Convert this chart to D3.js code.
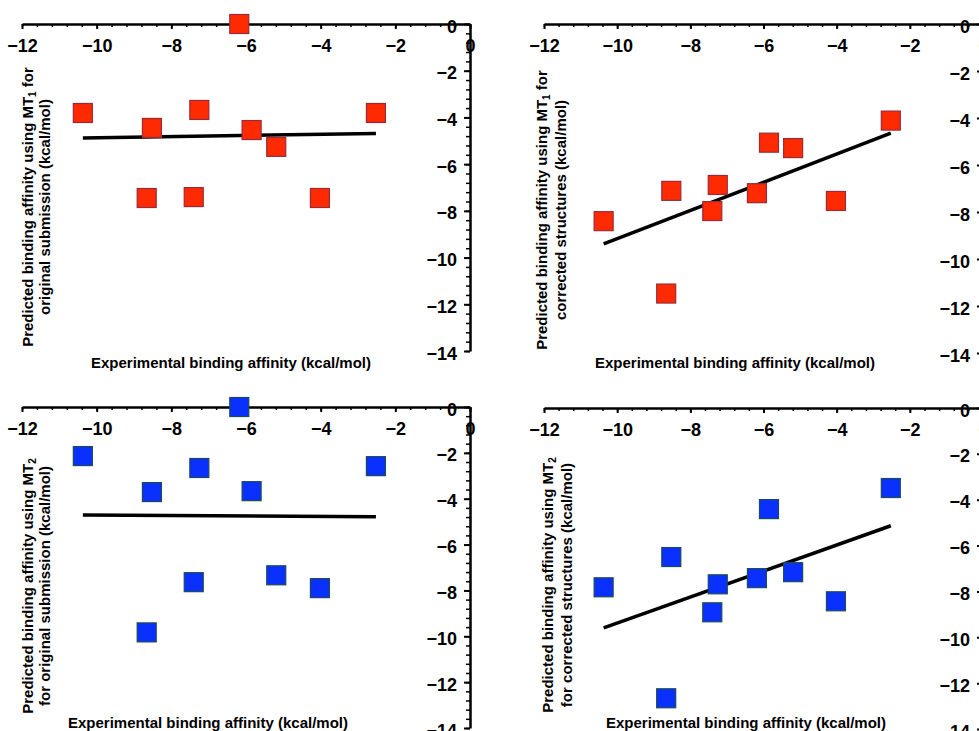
<!DOCTYPE html>
<html>
<head>
  <meta charset="utf-8">
  <script src="https://d3js.org/d3.v7.min.js"></script>
  <title>Predicted vs experimental binding affinity</title>
  <style>
    body {margin: 0; background: #fff;}
    svg {font-family: "Liberation Sans", Arial, Helvetica, sans-serif; font-weight: bold;}
    .axis path, .axis line {stroke: #000;}
    .title {font-size: 15px; fill: #000;}
  </style>
</head>
<body>
<div id="chart"></div>
<script>
  // experimental affinity of the ten complexes (kcal/mol)
  const experimental = [-10.37, -8.66, -8.52, -7.40, -7.25, -6.18, -5.85, -5.19, -4.02, -2.52];

  // predicted affinities, same order as above
  const mt1Original  = [-3.81, -7.45, -4.45, -7.41, -3.68, 0, -4.54, -5.26, -7.45, -3.81];
  const mt1Corrected = [-8.39, -11.47, -7.10, -7.96, -6.85, -7.20, -5.05, -5.28, -7.53, -4.11];
  const mt2Original  = [-2.14, -9.83, -3.71, -7.64, -2.66, 0, -3.67, -7.34, -7.90, -2.58];
  const mt2Corrected = [-7.82, -12.66, -6.50, -8.91, -7.69, -7.42, -4.41, -7.16, -8.43, -3.49];

  const xTicks = [-12, -10, -8, -6, -4, -2, 0];
  const yTicks = [0, -2, -4, -6, -8, -10, -12, -14];
  const xTitle = "Experimental binding affinity (kcal/mol)";

  /* one entry per panel: where it sits and what it shows */
  const panels = [
    {pred: mt1Original,  fill: "#ff2a00", edge: "#9a2a3a", px: [22, 470],  py: [24, 351],
     sub: "1", line1: ["Predicted binding affinity using MT", " for"], line2: "original submission (kcal/mol)",
     xt: [231, 368], yt: [33, 50, 207]},
    {pred: mt1Corrected, fill: "#ff2a00", edge: "#9a2a3a", px: [544, 983], py: [24, 353],
     sub: "1", line1: ["Predicted binding affinity using MT", " for"], line2: "corrected structures (kcal/mol)",
     xt: [735, 368], yt: [547, 566, 210]},
    {pred: mt2Original,  fill: "#0a30ff", edge: "#1d4a55", px: [22, 470],  py: [407, 728],
     sub: "2", line1: ["Predicted binding affinity using MT", ""], line2: "for original submission (kcal/mol)",
     xt: [208, 728], yt: [33, 50, 586]},
    {pred: mt2Corrected, fill: "#0a30ff", edge: "#1d4a55", px: [544, 983], py: [408, 729],
     sub: "2", line1: ["Predicted binding affinity using MT", ""], line2: "for corrected structures (kcal/mol)",
     xt: [746, 728], yt: [553, 572, 585]}
  ];

  const svg = d3.select("#chart").append("svg")
                .attr("width", 979)
                .attr("height", 731);

  // least squares fit
  const fit = (xs, ys) => {
    const mx = d3.mean(xs), my = d3.mean(ys);
    const slope = d3.sum(xs, (x, i) => (x - mx) * (ys[i] - my)) / d3.sum(xs, x => (x - mx) * (x - mx));
    return x => my + slope * (x - mx);
  };

  const minor = d3.range(0, 31).map(i => -12 + i * 0.4);
  const minorY = d3.range(0, 36).map(i => -i * 0.4);

  const styleLabels = sel => sel.selectAll("text")
      .attr("font-family", "'Liberation Sans', Arial, Helvetica, sans-serif")
      .attr("font-weight", "bold")
      .attr("font-size", 18)
      .attr("fill", "#000");

  panels.forEach(p => {
    const x = d3.scaleLinear().domain([-12, 0]).range(p.px);
    const y = d3.scaleLinear().domain([0, -14]).range(p.py);
    const g = svg.append("g");

    // minor ticks
    g.append("g").attr("class", "axis minor")
     .attr("transform", `translate(0,${p.py[0]})`)
     .call(d3.axisBottom(x).tickValues(minor).tickSize(3).tickSizeOuter(0).tickFormat(""))
     .call(a => a.select(".domain").remove())
     .selectAll("line").attr("stroke-width", 1.5);

    g.append("g").attr("class", "axis minor")
     .attr("transform", `translate(${p.px[1]},0)`)
     .call(d3.axisLeft(y).tickValues(minorY).tickSize(4).tickSizeOuter(0).tickFormat(""))
     .call(a => a.select(".domain").remove())
     .selectAll("line").attr("stroke-width", 1.5);

    // major axes
    const xa = g.append("g").attr("class", "axis")
     .attr("transform", `translate(0,${p.py[0]})`)
     .call(d3.axisBottom(x).tickValues(xTicks).tickSize(5).tickSizeOuter(0).tickPadding(10).tickFormat(d3.format("d")))
     .call(styleLabels);
    xa.select(".domain").attr("stroke-width", 2.5);
    xa.selectAll("line").attr("stroke-width", 2);

    const ya = g.append("g").attr("class", "axis")
     .attr("transform", `translate(${p.px[1]},0)`)
     .call(d3.axisLeft(y).tickValues(yTicks).tickSize(6).tickSizeOuter(0).tickPadding(7).tickFormat(d3.format("d")))
     .call(styleLabels);
    ya.select(".domain").attr("stroke-width", 2.5);
    ya.selectAll("line").attr("stroke-width", 2);
    ya.selectAll("text").attr("dy", "0.45em");

    // regression line
    const f = fit(experimental, p.pred);
    const ext = d3.extent(experimental);
    g.append("line")
     .attr("x1", x(ext[0])).attr("y1", y(f(ext[0])))
     .attr("x2", x(ext[1])).attr("y2", y(f(ext[1])))
     .attr("stroke", "#000").attr("stroke-width", 3.5);

    // points
    const s = 19;
    g.selectAll("rect.pt")
     .data(experimental.map((e, i) => ({e: e, v: p.pred[i]})))
     .enter().append("rect")
     .attr("class", "pt")
     .attr("x", d => x(d.e) - s / 2)
     .attr("y", d => y(d.v) - s / 2)
     .attr("width", s).attr("height", s)
     .attr("fill", p.fill)
     .attr("stroke", p.edge)
     .attr("stroke-width", 1.2);

    // titles
    g.append("text").attr("class", "title")
     .attr("x", p.xt[0]).attr("y", p.xt[1])
     .attr("text-anchor", "middle")
     .text(xTitle);

    const yt = g.append("text").attr("class", "title")
     .attr("transform", `translate(${p.yt[0]},${p.yt[2]}) rotate(-90)`)
     .attr("text-anchor", "middle");
    yt.append("tspan").text(p.line1[0]);
    yt.append("tspan").attr("font-size", "10px").attr("dy", "3").text(p.sub);
    yt.append("tspan").attr("dy", "-3").text(p.line1[1]);

    g.append("text").attr("class", "title")
     .attr("transform", `translate(${p.yt[1]},${p.yt[2]}) rotate(-90)`)
     .attr("text-anchor", "middle")
     .text(p.line2);
  });
</script>
</body>
</html>
